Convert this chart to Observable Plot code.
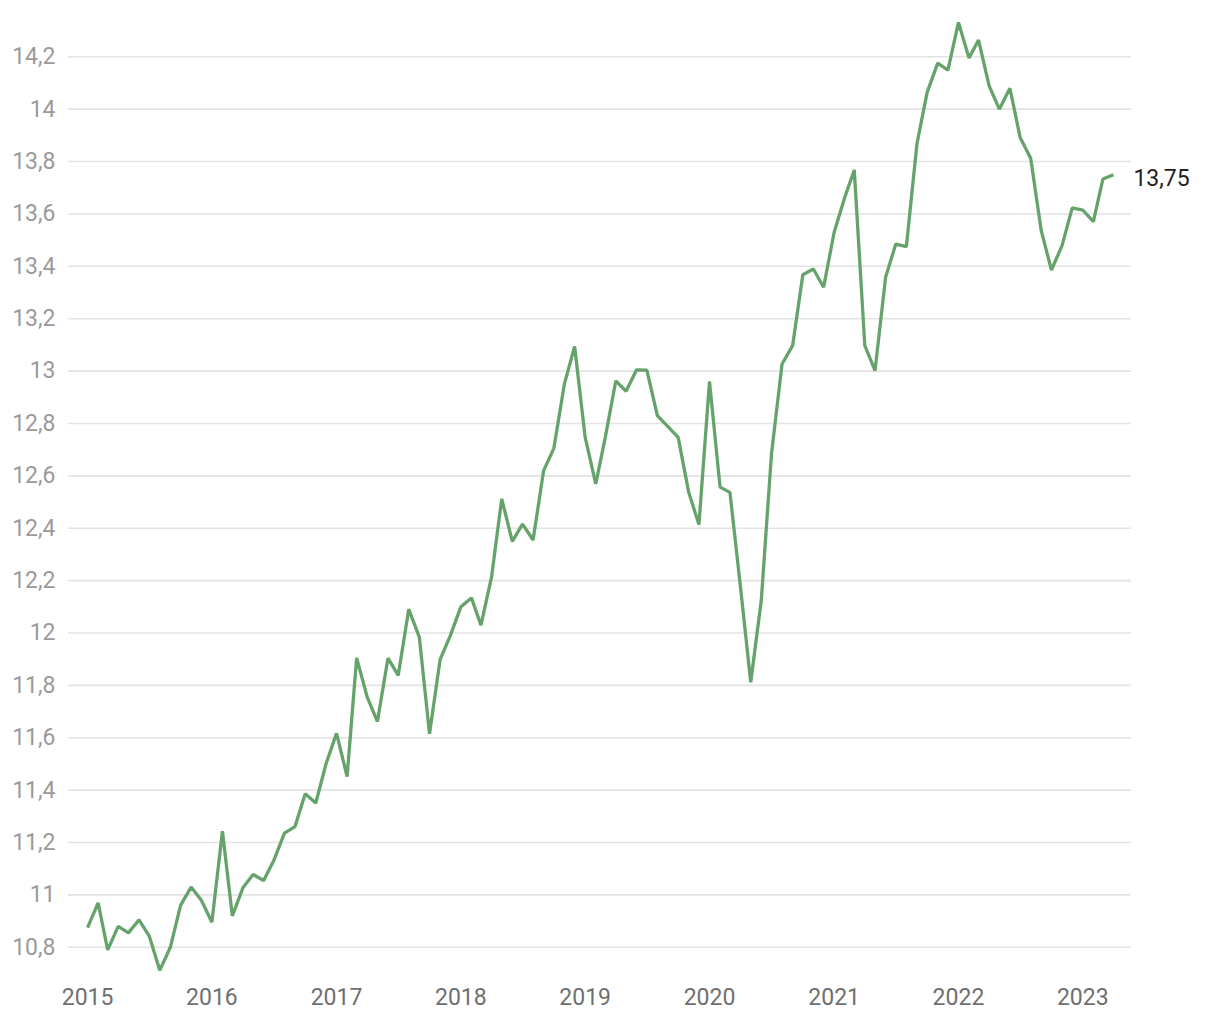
<!DOCTYPE html>
<html>
<head>
<meta charset="utf-8">
<script src="https://cdn.jsdelivr.net/npm/d3@7"></script>
<script src="https://cdn.jsdelivr.net/npm/@observablehq/plot@0.6"></script>
<style>
  html, body { margin: 0; padding: 0; background: #fff; }
  #chart { width: 1220px; height: 1020px; }
  svg { display: block; }
</style>
</head>
<body>
<div id="chart"></div>
<script>
// Monthly series, January 2015 – April 2023
const startYear = 2015;
const values = [
  // 2015
  10.875, 10.97, 10.79, 10.88, 10.855, 10.905, 10.843, 10.712, 10.80, 10.96, 11.03, 10.98,
  // 2016
  10.896, 11.243, 10.92, 11.027, 11.078, 11.055, 11.132, 11.236, 11.261, 11.386, 11.351, 11.50,
  // 2017
  11.617, 11.452, 11.905, 11.755, 11.662, 11.904, 11.838, 12.091, 11.984, 11.615, 11.898, 11.99,
  // 2018
  12.10, 12.134, 12.03, 12.213, 12.512, 12.35, 12.416, 12.355, 12.62, 12.705, 12.951, 13.094,
  // 2019
  12.747, 12.569, 12.747, 12.963, 12.923, 13.005, 13.004, 12.83, 12.788, 12.747, 12.537, 12.414,
  // 2020
  12.961, 12.557, 12.537, 12.175, 11.812, 12.124, 12.684, 13.027, 13.097, 13.368, 13.39, 13.32,
  // 2021
  13.53, 13.663, 13.768, 13.097, 13.002, 13.358, 13.485, 13.475, 13.867, 14.064, 14.176, 14.149,
  // 2022
  14.331, 14.195, 14.264, 14.089, 14.0, 14.08, 13.892, 13.813, 13.536, 13.386, 13.479, 13.623,
  // 2023
  13.615, 13.571, 13.733, 13.75
];
const lastLabel = "13,75";
const yTicks = [10.8, 11, 11.2, 11.4, 11.6, 11.8, 12, 12.2, 12.4, 12.6, 12.8, 13, 13.2, 13.4, 13.6, 13.8, 14, 14.2];
const xTickYears = [2015, 2016, 2017, 2018, 2019, 2020, 2021, 2022, 2023];

const data = values.map((v, i) => ({ date: new Date(Date.UTC(startYear, i, 1)), v }));
const xTicks = xTickYears.map(y => new Date(Date.UTC(y, 0, 1)));
const fmt = d => String(+d.toFixed(2)).replace(".", ",");

const chart = Plot.plot({
  width: 1220,
  height: 1020,
  marginLeft: 68,
  marginRight: 89,
  marginTop: 17,
  marginBottom: 47,
  style: { fontFamily: "Roboto, sans-serif", fontSize: "23px", background: "#fff" },
  x: { type: "utc", domain: [new Date(Date.UTC(2014, 10, 6)), new Date(Date.UTC(2023, 4, 24))], label: null },
  y: { domain: [10.7, 14.35], label: null },
  marks: [
    Plot.gridY(yTicks, { stroke: "#e3e3e3", strokeOpacity: 1, strokeWidth: 1.6 }),
    Plot.axisY(yTicks, { tickSize: 0, tickPadding: 13, tickFormat: fmt, fill: "#9a9a9a", fontSize: 23, label: null }),
    Plot.axisX(xTicks, { tickSize: 0, tickPadding: 15, tickFormat: d3.utcFormat("%Y"), fill: "#6f6f6f", fontSize: 23, label: null }),
    Plot.line(data, { x: "date", y: "v", stroke: "#66a36b", strokeWidth: 3.3, strokeLinejoin: "miter", strokeLinecap: "butt" }),
    Plot.text([data[data.length - 1]], { x: "date", y: "v", text: () => lastLabel, dx: 20, dy: 4, textAnchor: "start", fill: "#222", fontSize: 23 })
  ]
});
document.getElementById("chart").appendChild(chart);
</script>
</body>
</html>
